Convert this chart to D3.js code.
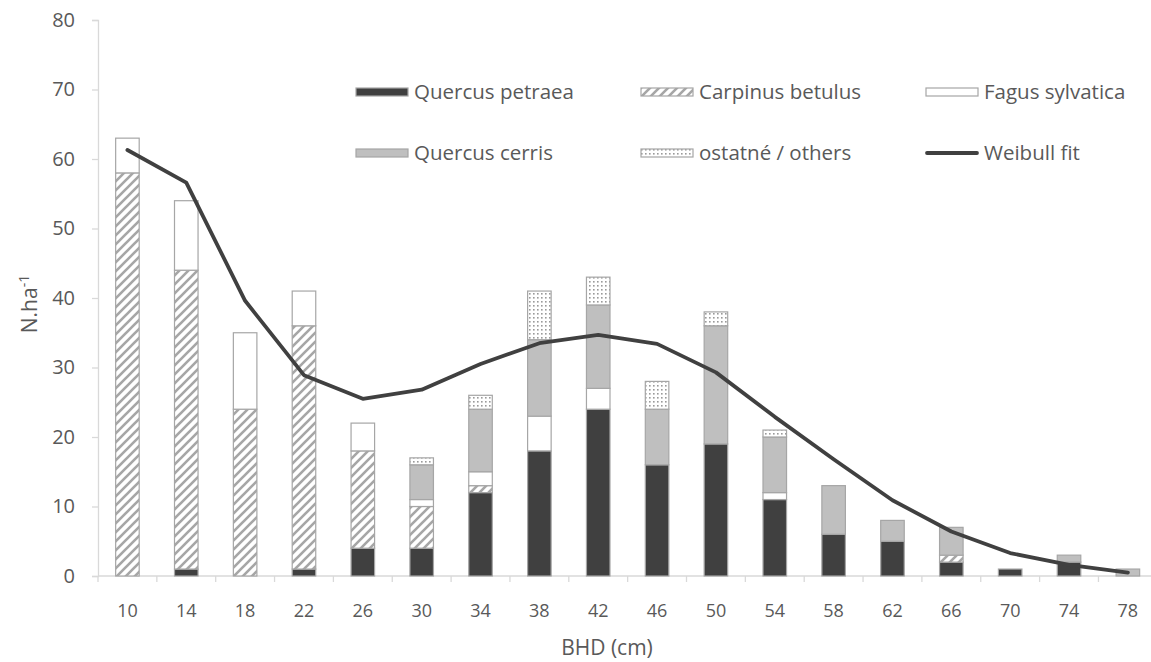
<!DOCTYPE html>
<html>
<head>
<meta charset="utf-8">
<script src="https://cdn.jsdelivr.net/npm/d3@7"></script>
<style>
  html, body { margin: 0; padding: 0; background: #fff; }
  svg { display: block; font-family: "Open Sans", "Noto Sans", sans-serif; }
</style>
</head>
<body>
<svg id="chart" width="1151" height="662"></svg>
<script>
// Diameter classes (cm)
const classes = [10, 14, 18, 22, 26, 30, 34, 38, 42, 46, 50, 54, 58, 62, 66, 70, 74, 78];

// Stem numbers per hectare by species, stacked bottom to top
const quercusPetraea  = [0, 1, 0, 1, 4, 4, 12, 18, 24, 16, 19, 11, 6, 5, 2, 1, 2, 0];
const carpinusBetulus = [58, 43, 24, 35, 14, 6, 1, 0, 0, 0, 0, 0, 0, 0, 1, 0, 0, 0];
const fagusSylvatica  = [5, 10, 11, 5, 4, 1, 2, 5, 3, 0, 0, 1, 0, 0, 0, 0, 0, 0];
const quercusCerris   = [0, 0, 0, 0, 0, 5, 9, 11, 12, 8, 17, 8, 7, 3, 4, 0, 1, 1];
const others          = [0, 0, 0, 0, 0, 1, 2, 7, 4, 4, 2, 1, 0, 0, 0, 0, 0, 0];

// Fitted Weibull distribution
const weibullFit = [61.3, 56.6, 39.6, 28.9, 25.5, 26.8, 30.5, 33.5, 34.7, 33.4, 29.3, 22.9, 16.8, 10.9, 6.4, 3.3, 1.6, 0.5];

const yTicks = [0, 10, 20, 30, 40, 50, 60, 70, 80];

const seriesNames = ["Quercus petraea", "Carpinus betulus", "Fagus sylvatica", "Quercus cerris", "ostatné / others"];
const seriesValues = [quercusPetraea, carpinusBetulus, fagusSylvatica, quercusCerris, others];

const svg = d3.select("#chart");
const defs = svg.append("defs");

// Wide upward diagonal hatch
const hatch = defs.append("pattern").attr("id", "hatch")
  .attr("patternUnits", "userSpaceOnUse").attr("width", 9).attr("height", 9);
hatch.append("rect").attr("width", 9).attr("height", 9).attr("fill", "#fff");
hatch.append("path").attr("d", "M-2,11 L11,-2 M-2,2 L2,-2 M7,11 L11,7")
  .attr("stroke", "#a6a6a6").attr("stroke-width", 2.6);

// Fine dot fill
const dots = defs.append("pattern").attr("id", "dots")
  .attr("patternUnits", "userSpaceOnUse").attr("width", 4).attr("height", 4);
dots.append("rect").attr("width", 4).attr("height", 4).attr("fill", "#fff");
dots.append("rect").attr("x", 1).attr("y", 1).attr("width", 1.6).attr("height", 1.6).attr("fill", "#9a9a9a");

const fills = ["#404040", "url(#hatch)", "#ffffff", "#bfbfbf", "url(#dots)"];

const x0 = 98, x1 = 98 + 18 * 58.85;
const x = d3.scaleBand().domain(classes).range([x0, x1]).paddingInner(0.6).paddingOuter(0.3);
const y = d3.scaleLinear().domain([0, 80]).range([576, 20]);

// Stack the species
const rows = classes.map((c, i) => {
  const r = { c };
  seriesNames.forEach((n, k) => r[n] = seriesValues[k][i]);
  return r;
});
const stacked = d3.stack().keys(seriesNames)(rows);

const axisColor = "#d9d9d9";
const textColor = "#595959";

// Y axis
const yAxis = svg.append("g").attr("transform", `translate(${x0},0)`)
  .call(d3.axisLeft(y).tickValues(yTicks).tickSize(6).tickPadding(17).tickFormat(d3.format("d")));
yAxis.select(".domain").attr("stroke", axisColor).attr("stroke-width", 1.3);
yAxis.selectAll(".tick line").attr("stroke", axisColor).attr("stroke-width", 1.3);
yAxis.selectAll(".tick text").attr("fill", textColor).style("font-size", "20px")
  .style("font-family", "'Open Sans', sans-serif");

// X axis with ticks between categories
const xAxisG = svg.append("g").attr("transform", `translate(0,${y(0)})`);
xAxisG.append("line").attr("x1", x0).attr("x2", x1).attr("y1", 0).attr("y2", 0)
  .attr("stroke", axisColor).attr("stroke-width", 1.3);
const step = x.step();
xAxisG.selectAll("line.tk").data(d3.range(classes.length + 1)).join("line").attr("class", "tk")
  .attr("x1", i => x0 + i * step).attr("x2", i => x0 + i * step)
  .attr("y1", 0).attr("y2", 6).attr("stroke", axisColor).attr("stroke-width", 1.3);
xAxisG.selectAll("text").data(classes).join("text")
  .attr("x", d => x(d) + x.bandwidth() / 2).attr("y", 41)
  .attr("text-anchor", "middle").attr("fill", textColor).style("font-size", "18px")
  .text(d => d);

// Stacked bars
svg.append("g").selectAll("g").data(stacked).join("g")
  .attr("fill", (d, k) => fills[k])
  .selectAll("rect").data(d => d.filter(s => s[1] - s[0] > 0)).join("rect")
  .attr("x", d => x(d.data.c))
  .attr("width", x.bandwidth())
  .attr("y", d => y(d[1]))
  .attr("height", d => y(d[0]) - y(d[1]))
  .attr("stroke", "#a6a6a6").attr("stroke-width", 1.2);

// Weibull curve
const line = d3.line().x((d, i) => x(classes[i]) + x.bandwidth() / 2).y(d => y(d));
svg.append("path").datum(weibullFit).attr("d", line)
  .attr("fill", "none").attr("stroke", "#404040").attr("stroke-width", 3.8)
  .attr("stroke-linejoin", "round").attr("stroke-linecap", "round");

// Axis titles
svg.append("text").attr("x", 607).attr("y", 655).attr("text-anchor", "middle")
  .attr("fill", textColor).style("font-size", "21px").text("BHD (cm)");
const yt = svg.append("text").attr("transform", "translate(37,304) rotate(-90)")
  .attr("text-anchor", "middle").attr("fill", textColor).style("font-size", "21px");
yt.append("tspan").text("N.ha");
yt.append("tspan").attr("dy", -8).style("font-size", "14px").text("-1");

// Legend
const legendItems = [
  { name: seriesNames[0], fill: fills[0], col: 0, row: 0 },
  { name: seriesNames[1], fill: fills[1], col: 1, row: 0 },
  { name: seriesNames[2], fill: fills[2], col: 2, row: 0 },
  { name: seriesNames[3], fill: fills[3], col: 0, row: 1 },
  { name: seriesNames[4], fill: fills[4], col: 1, row: 1 },
  { name: "Weibull fit", fill: null, col: 2, row: 1 }
];
const colX = [356, 641, 926];
const rowY = [92, 153];
const lg = svg.append("g");
legendItems.forEach(it => {
  const cx = colX[it.col], cy = rowY[it.row];
  if (it.fill) {
    lg.append("rect").attr("x", cx).attr("y", cy - 4).attr("width", 52).attr("height", 8)
      .attr("fill", it.fill).attr("stroke", "#a6a6a6").attr("stroke-width", 1.2);
  } else {
    lg.append("line").attr("x1", cx + 1).attr("x2", cx + 51).attr("y1", cy).attr("y2", cy)
      .attr("stroke", "#404040").attr("stroke-width", 3.8).attr("stroke-linecap", "round");
  }
  lg.append("text").attr("x", cx + 58).attr("y", cy).attr("dy", "0.35em")
    .attr("fill", textColor).style("font-size", "20.5px").text(it.name);
});
</script>
</body>
</html>
